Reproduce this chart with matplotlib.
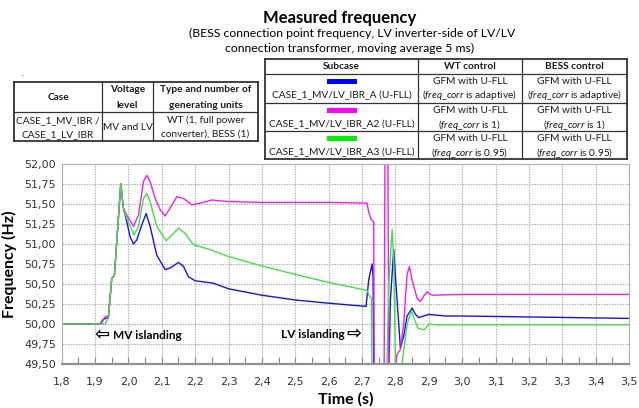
import matplotlib
matplotlib.use("Agg")
import matplotlib.pyplot as plt
from matplotlib.ticker import FuncFormatter, MultipleLocator
from matplotlib.lines import Line2D
from matplotlib.patches import Rectangle

plt.rcParams["mathtext.fontset"] = "custom"
plt.rcParams["mathtext.rm"] = "Lato"
plt.rcParams["mathtext.it"] = "Lato:italic"
plt.rcParams["mathtext.bf"] = "Lato:bold"

# ---------------- data ----------------
t_blue = [1.80, 1.915, 1.925, 1.94, 1.95, 1.958, 1.977, 1.985, 1.995, 2.005, 2.015, 2.025, 2.04, 2.053,
          2.065, 2.085, 2.11, 2.125, 2.15, 2.165, 2.18, 2.20, 2.255, 2.30, 2.35, 2.40, 2.50, 2.60, 2.712,
          2.72, 2.73, 2.733, 2.736, 2.778, 2.785, 2.795, 2.80, 2.815, 2.825, 2.835, 2.85, 2.86, 2.87,
          2.885, 2.90, 2.95, 3.0, 3.5]
f_blue = [50.00, 50.00, 50.06, 50.08, 50.57, 50.61, 51.75, 51.45, 51.28, 51.09, 51.00, 51.05, 51.24, 51.38,
          51.22, 50.86, 50.68, 50.70, 50.77, 50.72, 50.59, 50.54, 50.51, 50.44, 50.40, 50.36, 50.30, 50.26, 50.22,
          50.55, 50.75, 50.60, 49.00, 49.00, 50.30, 50.93, 50.60, 49.70, 49.85, 50.10, 50.20, 50.12, 50.08,
          50.10, 50.12, 50.10, 50.10, 50.07]

t_mag = [1.80, 1.918, 1.925, 1.93, 1.94, 1.95, 1.958, 1.977, 1.985, 1.995, 2.015, 2.03, 2.045, 2.055,
         2.065, 2.08, 2.095, 2.11, 2.125, 2.145, 2.165, 2.19, 2.215, 2.25, 2.30, 2.40, 2.60, 2.715, 2.72,
         2.728, 2.735, 2.737, 2.766, 2.769, 2.777, 2.781, 2.795, 2.805, 2.815, 2.825, 2.835, 2.842, 2.85,
         2.865, 2.875, 2.885, 2.895, 2.91, 3.0, 3.5]
f_mag = [50.00, 50.00, 50.05, 50.09, 50.10, 50.57, 50.61, 51.75, 51.45, 51.36, 51.22, 51.36, 51.78, 51.86,
         51.78, 51.57, 51.43, 51.35, 51.45, 51.59, 51.57, 51.49, 51.51, 51.55, 51.53, 51.52, 51.52, 51.51, 51.40,
         51.30, 51.28, 49.00, 49.00, 52.50, 52.50, 49.00, 49.30, 49.62, 49.68, 50.00, 50.62, 50.72, 50.55,
         50.32, 50.28, 50.35, 50.40, 50.36, 50.37, 50.37]

t_green = [1.80, 1.93, 1.94, 1.95, 1.958, 1.977, 1.985, 1.995, 2.017, 2.03, 2.045, 2.055, 2.065, 2.085,
           2.113, 2.13, 2.15, 2.17, 2.195, 2.245, 2.295, 2.345, 2.395, 2.50, 2.60, 2.715, 2.722, 2.728,
           2.731, 2.772, 2.78, 2.79, 2.795, 2.80, 2.81, 2.82, 2.835, 2.848, 2.858, 2.867, 2.88, 2.89,
           2.90, 2.92, 3.5]
f_green = [50.00, 50.00, 50.08, 50.57, 50.61, 51.75, 51.45, 51.32, 51.11, 51.22, 51.57, 51.63, 51.53, 51.22,
           51.04, 51.11, 51.20, 51.13, 50.99, 50.93, 50.85, 50.79, 50.73, 50.62, 50.52, 50.42, 50.35, 50.33,
           49.00, 49.00, 50.50, 51.18, 50.80, 49.50, 49.35, 49.50, 50.00, 50.16, 50.05, 49.95, 49.93, 49.94,
           50.00, 49.99, 49.99]

subcases = ["CASE_1_MV/LV_IBR_A (U-FLL)", "CASE_1_MV/LV_IBR_A2 (U-FLL)", "CASE_1_MV/LV_IBR_A3 (U-FLL)"]
freq_corr = ["adaptive", "1", "0.95"]
series_colors = ["#1414e6", "#f01ef0", "#44dd44"]
swatch_colors = ["#0000ff", "#ff00ff", "#00ee00"]

x_ticks = [1.8 + 0.1 * i for i in range(18)]
y_ticks = [49.5 + 0.25 * i for i in range(11)]

# ---------------- figure ----------------
W, H = 639, 408
fig = plt.figure(figsize=(W / 100, H / 100), dpi=100)
FONT = ["Lato", "DejaVu Sans"]

def fx(px):
    return px / W

def fy(py):
    return 1 - py / H

ax = fig.add_axes([fx(61.7), fy(364), fx(629) - fx(61.7), fy(164) - fy(364)])
for t, f, c in zip([t_blue, t_mag, t_green], [f_blue, f_mag, f_green], series_colors):
    ax.plot(t, f, color=c, lw=1.0, solid_joinstyle="round")

ax.set_xlim(1.8, 3.5)
ax.set_ylim(49.5, 52.0)
ax.set_xticks(x_ticks)
ax.set_yticks(y_ticks)
ax.xaxis.set_minor_locator(MultipleLocator(0.05))
ax.xaxis.set_major_formatter(FuncFormatter(lambda v, p: f"{v:.1f}".replace(".", ",")))
ax.yaxis.set_major_formatter(FuncFormatter(lambda v, p: f"{v:.2f}".replace(".", ",")))
ax.grid(True, which="major", color="#a8a8a8", linestyle=(0, (1.2, 1.2)), lw=0.8)
ax.tick_params(axis="both", which="major", direction="in", length=0, labelsize=8, labelcolor="#333333", pad=4)
ax.tick_params(axis="x", which="minor", direction="in", length=5, color="#888888", width=0.8)
ax.tick_params(axis="x", which="major", length=5, color="#888888", width=0.8, pad=9)
for lab in ax.get_xticklabels() + ax.get_yticklabels():
    lab.set_family("DejaVu Sans")
for s in ["top", "right", "left"]:
    ax.spines[s].set_color("#b0b0b0")
    ax.spines[s].set_linewidth(0.8)
ax.spines["bottom"].set_color("#909090")
ax.spines["bottom"].set_linewidth(1.6)

ax.set_ylabel("Frequency (Hz)", fontsize=11.5, fontweight="bold", family=FONT, labelpad=5)
ax.set_xlabel("Time (s)", fontsize=11.5, fontweight="bold", family=FONT, labelpad=4)

ax.text(1.9195, 49.86, "\u21e6", fontsize=13, fontweight="bold", family="DejaVu Sans",
        ha="center", va="center")
ax.text(1.953, 49.86, "MV islanding", fontsize=8.5, fontweight="bold", family=FONT,
        ha="left", va="center")
ax.text(2.649, 49.875, "LV islanding", fontsize=8.5, fontweight="bold", family=FONT,
        ha="right", va="center")
ax.text(2.6765, 49.875, "\u21e8", fontsize=13, fontweight="bold", family="DejaVu Sans",
        ha="center", va="center")

# ---------------- titles ----------------
fig.text(fx(340), fy(18), "Measured frequency", fontsize=12, fontweight="bold", family=FONT,
         ha="center", va="center")
fig.text(fx(352), fy(33), "(BESS connection point frequency, LV inverter-side of LV/LV",
         fontsize=8.8, family=FONT, ha="center", va="center")
fig.text(fx(350), fy(48.5), "connection transformer, moving average 5 ms)",
         fontsize=8.8, family=FONT, ha="center", va="center")
fig.text(fx(23), fy(74), ".", fontsize=6, family=FONT, ha="center", va="center", color="#555555")

def hline(x0, x1, y, lw=0.9):
    fig.add_artist(Line2D([fx(x0), fx(x1)], [fy(y), fy(y)], color="#333333", lw=lw,
                          transform=fig.transFigure))

def vline(x, y0, y1, lw=0.9):
    fig.add_artist(Line2D([fx(x), fx(x)], [fy(y0), fy(y1)], color="#333333", lw=lw,
                          transform=fig.transFigure))

TS = 7.3

def ttext(x, y, s, bold=False):
    fig.text(fx(x), fy(y), s, fontsize=TS, family=FONT, fontweight="bold" if bold else "normal",
             ha="center", va="center", color="#1a1a1a")

# left table
L = [14, 102, 153, 258]
LY = [82, 112, 141]
for y in LY:
    hline(L[0], L[-1], y, lw=1.3 if y in (LY[0], LY[-1]) else 0.9)
for i, x in enumerate(L):
    vline(x, LY[0], LY[-1], lw=1.3 if i in (0, len(L) - 1) else 0.9)
ttext(58, 97, "Case", bold=True)
ttext(127.5, 90, "Voltage", bold=True)
ttext(127.5, 105, "level", bold=True)
ttext(205.5, 90, "Type and number of", bold=True)
ttext(205.5, 105, "generating units", bold=True)
ttext(58, 120.5, "CASE_1_MV_IBR /")
ttext(58, 134.5, "CASE_1_LV_IBR")
ttext(127.5, 127.5, "MV and LV")
ttext(205.5, 120.5, "WT (1, full power")
ttext(205.5, 134.5, "converter), BESS (1)")

# right table
R = [265, 418, 522, 627]
RY = [59, 74, 103, 131, 159]
for y in RY:
    hline(R[0], R[-1], y, lw=1.3 if y in (RY[0], RY[-1]) else 0.9)
for i, x in enumerate(R):
    vline(x, RY[0], RY[-1], lw=1.3 if i in (0, len(R) - 1) else 0.9)
ttext((R[0] + R[1]) / 2, 66.5, "Subcase", bold=True)
ttext((R[1] + R[2]) / 2, 66.5, "WT control", bold=True)
ttext((R[2] + R[3]) / 2, 66.5, "BESS control", bold=True)
for i in range(3):
    top = RY[i + 1]
    y1 = top + 7.5
    y2 = top + 21.5
    cx = (R[0] + R[1]) / 2
    fig.add_artist(Rectangle((fx(cx - 15), fy(y1 + 2)), fx(30), fy(0) - fy(4.5),
                             facecolor=swatch_colors[i], edgecolor="none", transform=fig.transFigure))
    ttext(cx, y2, subcases[i])
    for c in (1, 2):
        ccx = (R[c] + R[c + 1]) / 2
        ttext(ccx, y1, "GFM with U-FLL")
        fig.text(fx(ccx), fy(y2), "(" + r"$\it{freq\_corr}$" + r"$\ $" + "is " + freq_corr[i] + ")",
                 fontsize=TS, family=FONT, ha="center", va="center", color="#1a1a1a")

fig.savefig("out.png", dpi=100)
